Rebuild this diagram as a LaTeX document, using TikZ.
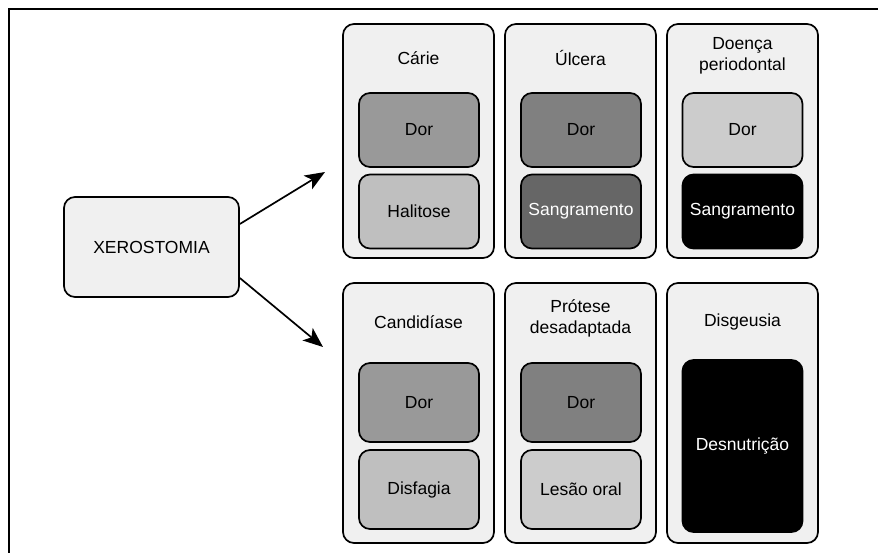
\documentclass[tikz,border=0pt]{standalone}
\usepackage{fontspec}
\setmainfont{Liberation Sans}
\usetikzlibrary{arrows.meta,calc}
\definecolor{panelfill}{HTML}{F0F0F0}
\definecolor{gA}{HTML}{999999}
\definecolor{gB}{HTML}{BFBFBF}
\definecolor{gC}{HTML}{808080}
\definecolor{gD}{HTML}{666666}
\definecolor{gE}{HTML}{CCCCCC}
\begin{document}
\begin{tikzpicture}[x=1pt,y=-1pt,
  every node/.style={font=\fontsize{17.5}{21}\selectfont, inner sep=0pt},
  base/.style={draw=black, line width=1.7pt, rounded corners=11pt},
  mainbox/.style={base, fill=panelfill, minimum width=175pt, minimum height=100pt},
  panel/.style={base, fill=panelfill, minimum width=151pt, minimum height=234pt},
  tallpanel/.style={panel, minimum height=260pt},
  item/.style={base, minimum width=120pt, minimum height=74pt},
  itemb/.style={item, minimum height=79pt},
  title/.style={align=center},
  link/.style={line width=1.7pt, -{Stealth[length=20pt,width=16pt,inset=5pt]}}
]
\useasboundingbox (0,0) rectangle (878,552);
% outer frame, running off the page on the right and at the bottom
\draw[line width=2pt] (9,560) -- (9,9) -- (890,9);

% source
\node[mainbox] (xero) at (151.5,247) {XEROSTOMIA};

% top row
\node[panel] (carie) at (418.5,141) {};
\node[title] (carieT) at (418.5,58) {Cárie};
\node[item, fill=gA] (carieA) at (419,130) {Dor};
\node[item, fill=gB] (carieB) at (419,211.5) {Halitose};

\node[panel] (ulcera) at (580.5,141) {};
\node[title] (ulceraT) at (580.5,58) {Úlcera};
\node[item, fill=gC] (ulceraA) at (581,130) {Dor};
\node[item, fill=gD, text=white] (ulceraB) at (581,211.5) {Sangramento};

\node[panel] (perio) at (742.5,141) {};
\node[title] (perioT) at (742.5,56) {Doença\\periodontal};
\node[item, fill=gE] (perioA) at (742.5,130) {Dor};
\node[item, fill=black, text=white] (perioB) at (742.5,211.5) {Sangramento};

% bottom row
\node[tallpanel] (cand) at (418.5,413) {};
\node[title] (candT) at (418.5,322) {Candidíase};
\node[itemb, fill=gA] (candA) at (419,402.5) {Dor};
\node[itemb, fill=gB] (candB) at (419,489.5) {Disfagia};

\node[tallpanel] (prot) at (580.5,413) {};
\node[title] (protT) at (580.5,318) {Prótese\\desadaptada};
\node[itemb, fill=gC] (protA) at (581,402.5) {Dor};
\node[itemb, fill=gE] (protB) at (581,489.5) {Lesão oral};

\node[tallpanel] (disg) at (742.5,413) {};
\node[title] (disgT) at (742.5,322) {Disgeusia};
\node[base, fill=black, text=white, minimum width=120pt, minimum height=172pt] (disgA) at (742.5,446) {Desnutrição};

% connectors
\coordinate (tipTop) at (325,172);
\coordinate (tipBot) at (323,347);
\draw[link] ([yshift=23pt]xero.east) -- (tipTop);
\draw[link] ([yshift=-31pt]xero.east) -- (tipBot);
\end{tikzpicture}
\end{document}
